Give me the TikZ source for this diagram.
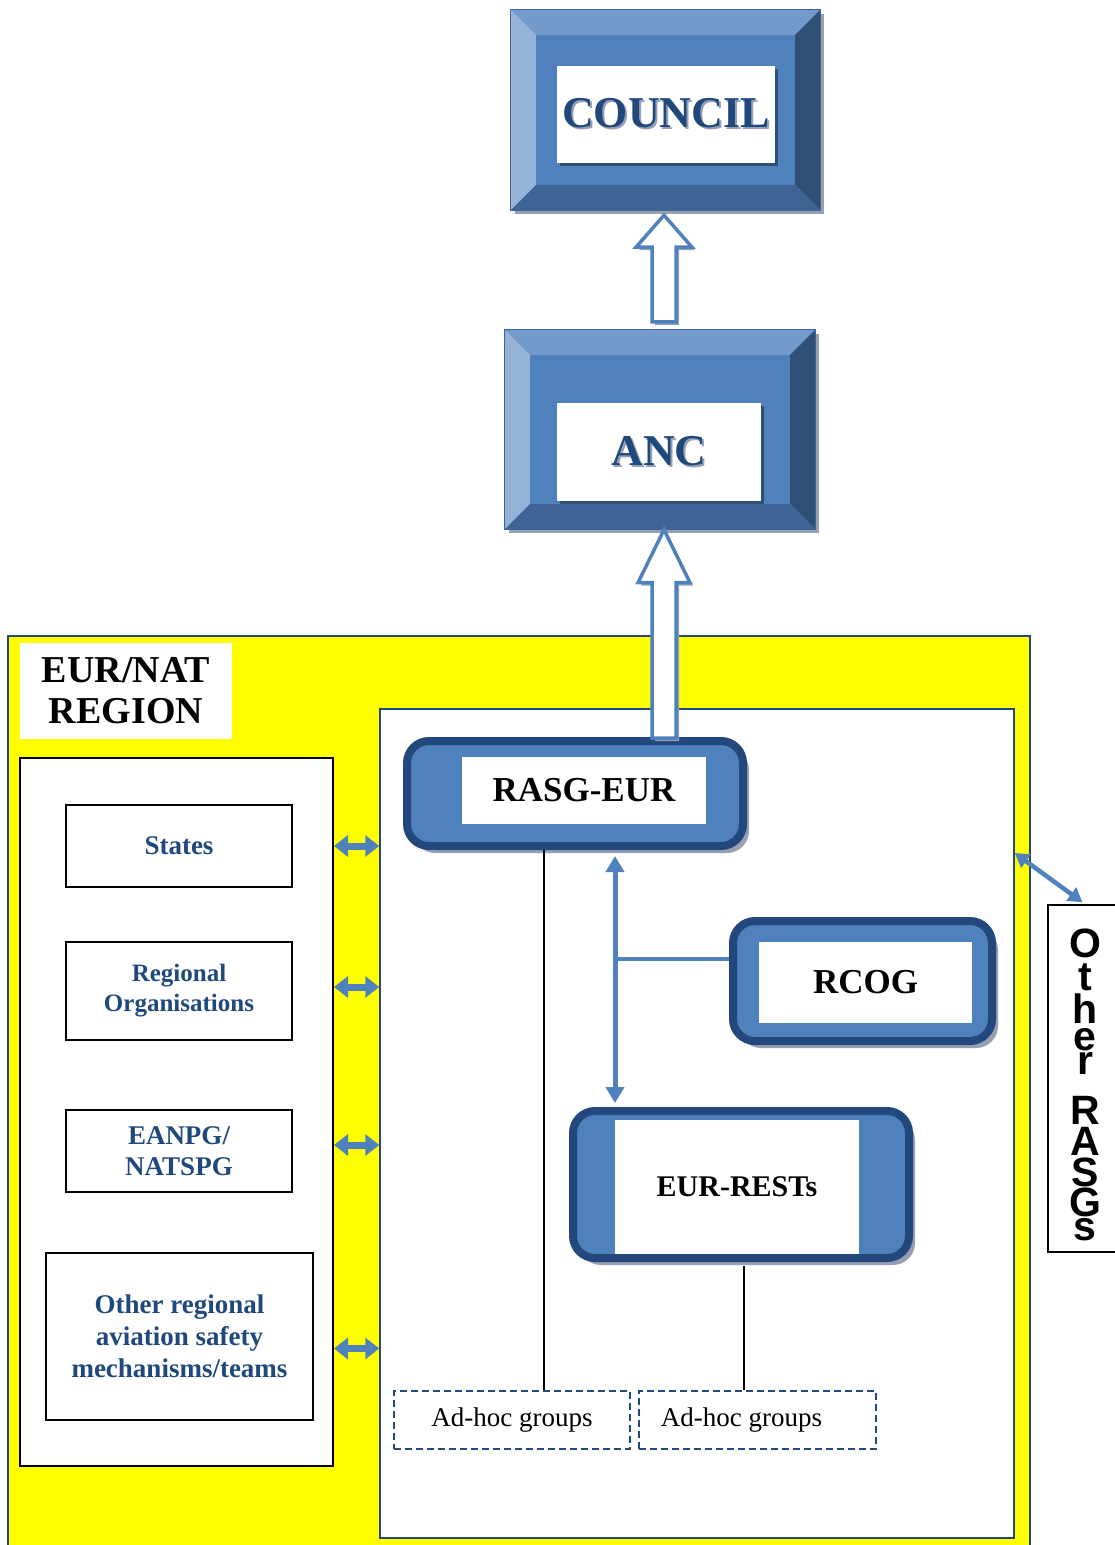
\documentclass[tikz,border=0pt]{standalone}
\usepackage{fontspec}
\setmainfont{Liberation Serif}
\setsansfont{Liberation Sans}
\usetikzlibrary{calc,arrows.meta,positioning,shadows}

\definecolor{facebl}{RGB}{79,129,189}
\definecolor{topbl}{RGB}{114,154,202}
\definecolor{leftbl}{RGB}{149,179,215}
\definecolor{rightbl}{RGB}{47,79,117}
\definecolor{botbl}{RGB}{62,100,150}
\definecolor{darkbl}{RGB}{35,72,125}
\definecolor{textbl}{RGB}{31,73,125}
\definecolor{shadowgr}{RGB}{150,160,178}
\definecolor{regionyl}{RGB}{255,255,0}

% bevelled plate round a named node
\newcommand{\bevelplate}[2]{%
 \fill[shadowgr] ($(#1.north west)+(4,4)$) rectangle ($(#1.south east)+(4,4)$);
 \fill[facebl] (#1.north west) rectangle (#1.south east);
 \fill[topbl] (#1.north west) -- (#1.north east) -- ($(#1.north east)+(-#2,#2)$) -- ($(#1.north west)+(#2,#2)$) -- cycle;
 \fill[leftbl] (#1.north west) -- ($(#1.north west)+(#2,#2)$) -- ($(#1.south west)+(#2,-#2)$) -- (#1.south west) -- cycle;
 \fill[rightbl] (#1.north east) -- (#1.south east) -- ($(#1.south east)+(-#2,-#2)$) -- ($(#1.north east)+(-#2,#2)$) -- cycle;
 \fill[botbl] (#1.south west) -- (#1.south east) -- ($(#1.south east)+(-#2,-#2)$) -- ($(#1.south west)+(#2,-#2)$) -- cycle;
 \draw[botbl, line width=0.8pt] (#1.north west) rectangle (#1.south east);
}
\newcommand{\embossed}[1]{\rlap{\hspace{2pt}\raisebox{-2pt}{\color{shadowgr}#1}}#1}

\begin{document}
\begin{tikzpicture}[x=1pt,y=-1pt,
 plate/.style={inner sep=0pt},
 namelabel/.style={fill=white, inner sep=0pt, text=textbl,
   font=\fontsize{44}{44}\selectfont\bfseries,
   drop shadow={shadow xshift=3pt,shadow yshift=-3pt,fill=rightbl,opacity=1}},
 roundbox/.style={draw=darkbl, line width=8pt, fill=facebl, rounded corners=22pt, inner sep=0pt,
   drop shadow={shadow xshift=6pt,shadow yshift=-7pt,fill=shadowgr,opacity=1}},
 whitelabel/.style={fill=white, inner sep=0pt},
 memberbox/.style={draw=black, line width=1.5pt, fill=white, inner sep=0pt, align=center, text=textbl},
 adhoc/.style={draw=darkbl, line width=1.5pt, dash pattern=on 7pt off 4pt, inner sep=0pt,
   minimum height=58, font=\fontsize{27}{30}\selectfont},
 hollowarr/.style={draw=facebl, line width=3.5pt, fill=white, line join=miter,
   drop shadow={shadow xshift=3pt,shadow yshift=-3pt,fill=shadowgr,opacity=1}},
 dblarr/.style={draw=facebl, line width=7pt, {Triangle[length=14pt,width=21pt]}-{Triangle[length=14pt,width=21pt]}},
 spinearr/.style={draw=facebl, line width=5pt, {Triangle[length=16pt,width=18pt]}-{Triangle[length=16pt,width=18pt]}},
]
\useasboundingbox (0,0) rectangle (1115,1545);

% top of the hierarchy
\node[plate, minimum width=309, minimum height=200] (councilplate) at (665.5,110) {};
\bevelplate{councilplate}{25}
\node[namelabel, minimum width=218, minimum height=97] (council) at (666,114.5) {\embossed{COUNCIL}};

\node[plate, minimum width=310, minimum height=199] (ancplate) at (660,429.5) {};
\bevelplate{ancplate}{25}
\node[namelabel, minimum width=204, minimum height=98] (anc) at (659,452) {\embossed{ANC}};

\coordinate (up1tip) at ($(councilplate.south)+(-1.5,5)$);
\coordinate (up1foot) at ($(ancplate.north)+(4,-8)$);
\draw[hollowarr] (up1tip) -- ++(28,32) -- ++(-16,0) |- ($(up1foot)+(-12,0)$)
  |- ($(up1tip)+(-28,32)$) -- cycle;

% the region
\node[draw=darkbl, line width=1.5pt, fill=regionyl, minimum width=1022, minimum height=924] (region) at (519,1098) {};
\node[whitelabel, minimum width=212, minimum height=96, align=center,
  font=\fontsize{38}{41}\selectfont\bfseries] (regionlabel) at (126,691) {EUR/NAT\\REGION};
\node[draw=darkbl, line width=1.5pt, fill=white, minimum width=634, minimum height=829] (rpanel) at (697,1123.5) {};
\node[draw=black, line width=2pt, fill=white, minimum width=313, minimum height=708] (leftpanel) at (176.5,1112) {};

\node[memberbox, minimum width=226, minimum height=82, font=\fontsize{27}{31}\selectfont\bfseries]
  (states) at (179,846) {States};
\node[memberbox, minimum width=226, minimum height=98, font=\fontsize{25}{30}\selectfont\bfseries]
  (regorg) at (179,991) {Regional\\Organisations};
\node[memberbox, minimum width=226, minimum height=82, font=\fontsize{27}{31}\selectfont\bfseries]
  (eanpg) at (179,1151) {EANPG/\\NATSPG};
\node[memberbox, minimum width=267, minimum height=167, font=\fontsize{27}{32}\selectfont\bfseries]
  (otherreg) at (179.5,1336.5) {Other regional\\aviation safety\\mechanisms/teams};

\draw[dblarr] (leftpanel.east |- states.east) -- (rpanel.west |- states.east);
\draw[dblarr] ($(leftpanel.east |- regorg.east)+(0,-4)$) -- ($(rpanel.west |- regorg.east)+(0,-4)$);
\draw[dblarr] ($(leftpanel.east |- eanpg.east)+(0,-6)$) -- ($(rpanel.west |- eanpg.east)+(0,-6)$);
\draw[dblarr] ($(leftpanel.east |- otherreg.east)+(0,12)$) -- ($(rpanel.west |- otherreg.east)+(0,12)$);

% regional groups
\node[roundbox, minimum width=336, minimum height=105] (rasgbox) at (575,793.5) {};
\node[whitelabel, minimum width=244, minimum height=67, font=\fontsize{35}{40}\selectfont\bfseries]
  (rasg) at (584,790.5) {RASG-EUR};

\node[roundbox, minimum width=259, minimum height=120] (rcogbox) at (862.5,981) {};
\node[whitelabel, minimum width=213, minimum height=81, font=\fontsize{35}{40}\selectfont\bfseries]
  (rcog) at (865.5,982.5) {RCOG};

\node[roundbox, minimum width=336, minimum height=147] (restsbox) at (741,1184.5) {};
\node[whitelabel, minimum width=244, minimum height=134, font=\fontsize{30}{36}\selectfont\bfseries]
  (rests) at (737,1187) {EUR-RESTs};

\coordinate (up2tip) at ($(ancplate.south)+(4,0.5)$);
\coordinate (up2foot) at ($(up2tip |- rasgbox.north)+(0,1)$);
\draw[hollowarr] (up2tip) -- ++(26,53) -- ++(-14,0) |- ($(up2foot)+(-12,0)$)
  |- ($(up2tip)+(-26,53)$) -- cycle;

\coordinate (spine) at (615,959);
\draw[spinearr] ($(spine |- rasgbox.south)+(0,6)$) -- ($(spine |- restsbox.north)+(0,-4)$);
\draw[facebl, line width=4pt] (spine) -- (spine -| rcogbox.west);

\node[adhoc, minimum width=236] (adhoc1) at (512,1420) {Ad-hoc groups};
\node[adhoc, minimum width=237] (adhoc2) at (757.5,1420) {Ad-hoc groups\kern32pt};
\coordinate (drop1) at (544,850);
\draw[black, line width=1.5pt] (drop1) -- (drop1 |- adhoc1.north);
\coordinate (drop2) at ($(restsbox.south)+(3,4)$);
\draw[black, line width=1.5pt] (drop2) -- (drop2 |- adhoc2.north);

% the other groups
\node[draw=black, line width=1.5pt, fill=white, minimum width=77, minimum height=347] (otherrasg) at (1086.5,1078.5) {};
\node[inner sep=0pt, anchor=north, align=center,
  font={\sffamily\bfseries\fontsize{41}{0}\selectfont\lineskiplimit=-1000pt\lineskip=0pt}]
  (otherrasgtext) at (1085,929) {O\\[33pt]t\\[33pt]h\\[27pt]e\\[24pt]r\\[50pt]R\\[31pt]A\\[31pt]S\\[30pt]G\\[24pt]s};
\draw[draw=facebl, line width=4.5pt, {Triangle[length=14pt,width=16pt]}-{Triangle[length=14pt,width=16pt]}]
  (rpanel.east |- 0,853) -- ($(otherrasg.north)+(-4,-2)$);
\end{tikzpicture}
\end{document}
